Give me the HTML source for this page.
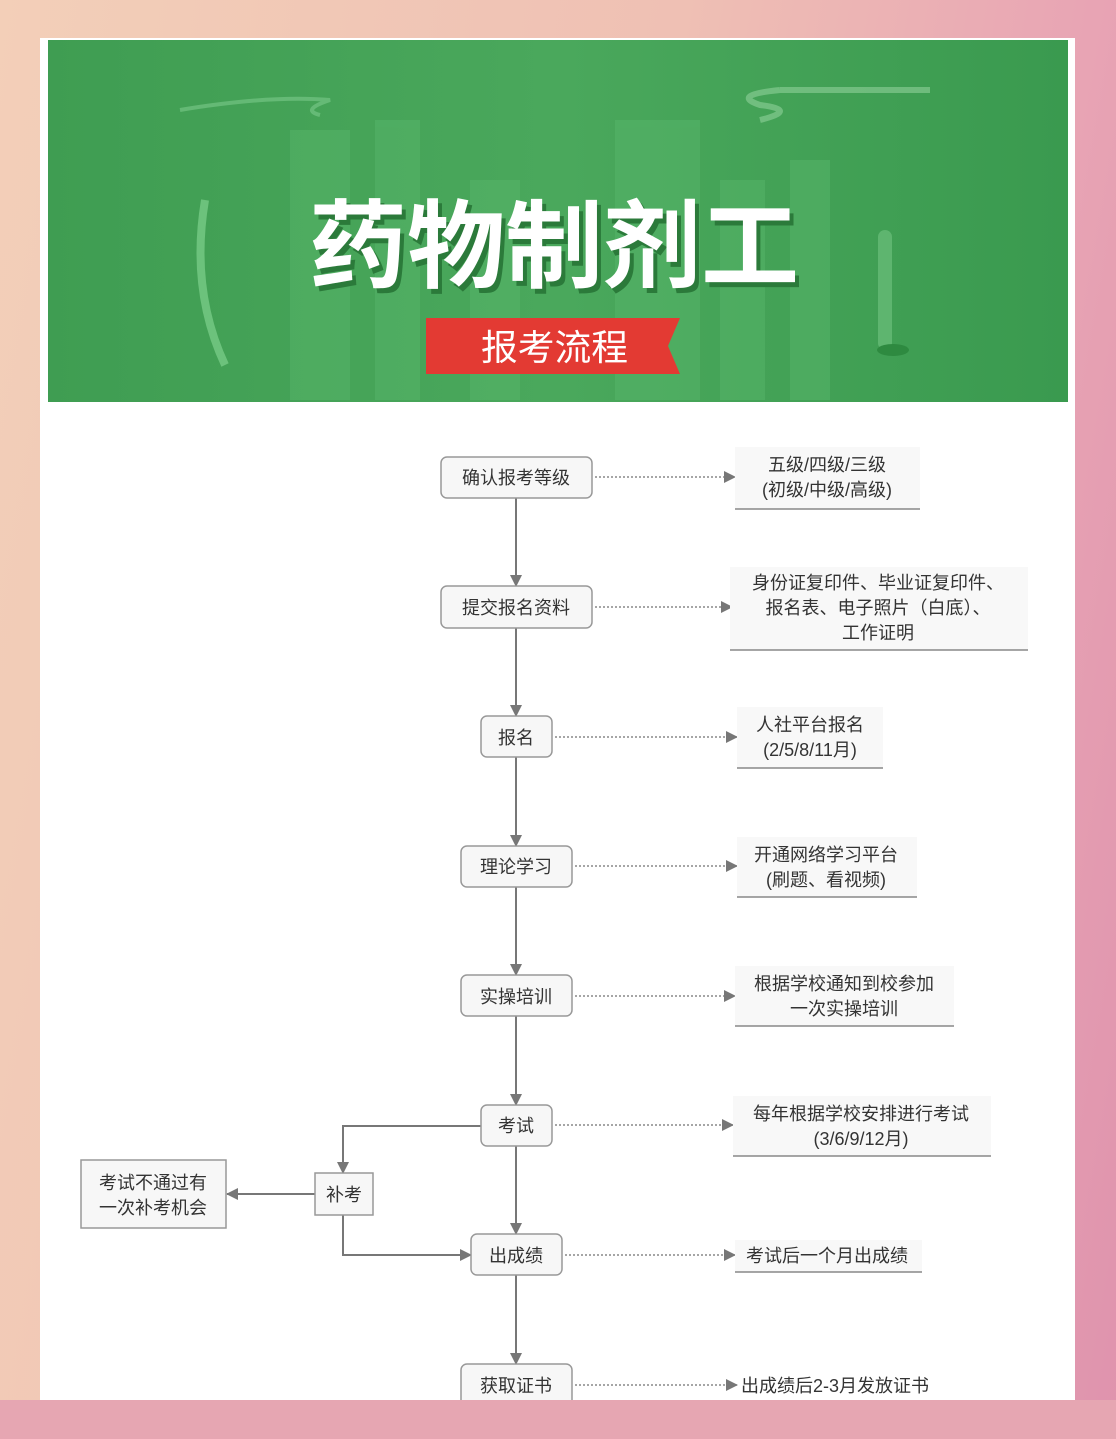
<!DOCTYPE html>
<html><head><meta charset="utf-8"><style>
html,body{margin:0;padding:0;width:1116px;height:1439px;overflow:hidden;}
body{background:linear-gradient(100deg,#f3cfb8 0%,#efc0b4 50%,#e8a4b4 80%,#df93ad 100%);}
svg{position:absolute;left:0;top:0}
text{font-family:"Liberation Sans","Noto Sans CJK SC",sans-serif;}
</style></head><body>
<svg width="1116" height="1439" viewBox="0 0 1116 1439">
<defs>
<linearGradient id="g" x1="0" x2="1"><stop offset="0" stop-color="#3f9d52"/><stop offset="0.5" stop-color="#4aa85c"/><stop offset="1" stop-color="#3a9a4f"/></linearGradient>
<marker id="a" markerWidth="12" markerHeight="12" refX="11" refY="6" orient="auto" markerUnits="userSpaceOnUse"><path d="M0,0 L12,6 L0,12 z" fill="#777"/></marker>
</defs>
<rect x="0" y="1400" width="1116" height="39" fill="#e6a6b2"/>
<rect x="40" y="38" width="1035" height="1362" fill="#fff"/>
<rect x="48" y="40" width="1020" height="362" fill="url(#g)"/>
<g fill="#56b469" opacity="0.55">
<rect x="290" y="130" width="60" height="270"/><rect x="375" y="120" width="45" height="280"/>
<rect x="470" y="180" width="50" height="220"/><rect x="615" y="120" width="85" height="280"/>
<rect x="720" y="180" width="45" height="220"/><rect x="790" y="160" width="40" height="240"/>
</g>
<path d="M180 110 Q270 95 330 100 Q300 110 320 115" stroke="#7cc98a" stroke-width="4" fill="none" opacity="0.6"/>
<path d="M780 90 Q730 95 760 105 Q800 110 760 120 M780 90 L930 90" stroke="#8fd09a" stroke-width="6" fill="none" opacity="0.6"/>
<path d="M205 200 Q190 290 225 365" stroke="#6cc27c" stroke-width="8" fill="none"/>
<rect x="878" y="230" width="14" height="120" rx="7" fill="#5eb56f"/>
<ellipse cx="893" cy="350" rx="16" ry="6" fill="#2e8a40"/>
<text x="313" y="285" font-size="96" font-weight="bold" fill="#2b7a3a" textLength="490" lengthAdjust="spacingAndGlyphs">药物制剂工</text>
<text x="309" y="280" font-size="96" font-weight="bold" fill="#fff" textLength="490" lengthAdjust="spacingAndGlyphs">药物制剂工</text>
<path d="M426 318 L680 318 L668 346 L680 374 L426 374 z" fill="#e33a33"/>
<text x="481" y="360" font-size="36" fill="#fff" textLength="147" lengthAdjust="spacingAndGlyphs">报考流程</text>
<g stroke="#777" stroke-width="2" fill="none">
<line x1="516" y1="498" x2="516" y2="586" marker-end="url(#a)"/>
<line x1="516" y1="628" x2="516" y2="716" marker-end="url(#a)"/>
<line x1="516" y1="757" x2="516" y2="846" marker-end="url(#a)"/>
<line x1="516" y1="887" x2="516" y2="975" marker-end="url(#a)"/>
<line x1="516" y1="1016" x2="516" y2="1105" marker-end="url(#a)"/>
<line x1="516" y1="1146" x2="516" y2="1234" marker-end="url(#a)"/>
<line x1="516" y1="1275" x2="516" y2="1364" marker-end="url(#a)"/>
<polyline points="481,1126 343,1126 343,1173" marker-end="url(#a)"/>
<line x1="315" y1="1194" x2="227" y2="1194" marker-end="url(#a)"/>
<polyline points="343,1215 343,1255 471,1255" marker-end="url(#a)"/>
</g>
<g stroke="#888" stroke-width="1.5" stroke-dasharray="2,2" fill="none">
<line x1="595" y1="477" x2="735" y2="477" marker-end="url(#a)"/>
<line x1="595" y1="607" x2="732" y2="607" marker-end="url(#a)"/>
<line x1="555" y1="737" x2="737" y2="737" marker-end="url(#a)"/>
<line x1="575" y1="866" x2="737" y2="866" marker-end="url(#a)"/>
<line x1="575" y1="996" x2="735" y2="996" marker-end="url(#a)"/>
<line x1="555" y1="1125" x2="733" y2="1125" marker-end="url(#a)"/>
<line x1="565" y1="1255" x2="735" y2="1255" marker-end="url(#a)"/>
<line x1="575" y1="1385" x2="737" y2="1385" marker-end="url(#a)"/>
</g>
<g fill="#f8f8f8">
<rect x="735" y="447" width="185" height="62"/><rect x="730" y="567" width="298" height="83"/>
<rect x="737" y="707" width="146" height="61"/><rect x="737" y="837" width="180" height="60"/>
<rect x="735" y="966" width="219" height="60"/><rect x="733" y="1096" width="258" height="60"/>
<rect x="735" y="1240" width="187" height="32"/>
</g>
<g stroke="#888" stroke-width="1.5">
<line x1="735" y1="509" x2="920" y2="509"/><line x1="730" y1="650" x2="1028" y2="650"/>
<line x1="737" y1="768" x2="883" y2="768"/><line x1="737" y1="897" x2="917" y2="897"/>
<line x1="735" y1="1026" x2="954" y2="1026"/><line x1="733" y1="1156" x2="991" y2="1156"/>
<line x1="735" y1="1272" x2="922" y2="1272"/>
</g>
<g fill="#f7f7f7" stroke="#999" stroke-width="1.5">
<rect x="441" y="457" width="151" height="41" rx="6"/><rect x="441" y="586" width="151" height="42" rx="6"/>
<rect x="481" y="716" width="71" height="41" rx="6"/><rect x="461" y="846" width="111" height="41" rx="6"/>
<rect x="461" y="975" width="111" height="41" rx="6"/><rect x="481" y="1105" width="71" height="41" rx="6"/>
<rect x="471" y="1234" width="91" height="41" rx="6"/><rect x="461" y="1364" width="111" height="50" rx="6"/>
<rect x="315" y="1173" width="58" height="42"/><rect x="81" y="1160" width="145" height="68"/>
</g>
<rect x="0" y="1400" width="1116" height="39" fill="#e6a6b2"/>
<g font-size="18" fill="#333" text-anchor="middle">
<text x="516" y="484">确认报考等级</text><text x="516" y="614">提交报名资料</text>
<text x="516" y="744">报名</text><text x="516" y="873">理论学习</text>
<text x="516" y="1003">实操培训</text><text x="516" y="1132">考试</text>
<text x="516" y="1262">出成绩</text><text x="516" y="1392">获取证书</text>
<text x="344" y="1201">补考</text>
<text x="153" y="1189">考试不通过有</text><text x="153" y="1214">一次补考机会</text>
<text x="827" y="471">五级/四级/三级</text><text x="827" y="496">(初级/中级/高级)</text>
<text x="878" y="589">身份证复印件、毕业证复印件、</text><text x="878" y="614">报名表、电子照片（白底）、</text><text x="878" y="639">工作证明</text>
<text x="810" y="731">人社平台报名</text><text x="810" y="756">(2/5/8/11月)</text>
<text x="826" y="861">开通网络学习平台</text><text x="826" y="886">(刷题、看视频)</text>
<text x="844" y="990">根据学校通知到校参加</text><text x="844" y="1015">一次实操培训</text>
<text x="861" y="1120">每年根据学校安排进行考试</text><text x="861" y="1145">(3/6/9/12月)</text>
<text x="827" y="1262">考试后一个月出成绩</text>
<text x="741" y="1392" text-anchor="start">出成绩后2-3月发放证书</text>
</g>
</svg>
</body></html>
